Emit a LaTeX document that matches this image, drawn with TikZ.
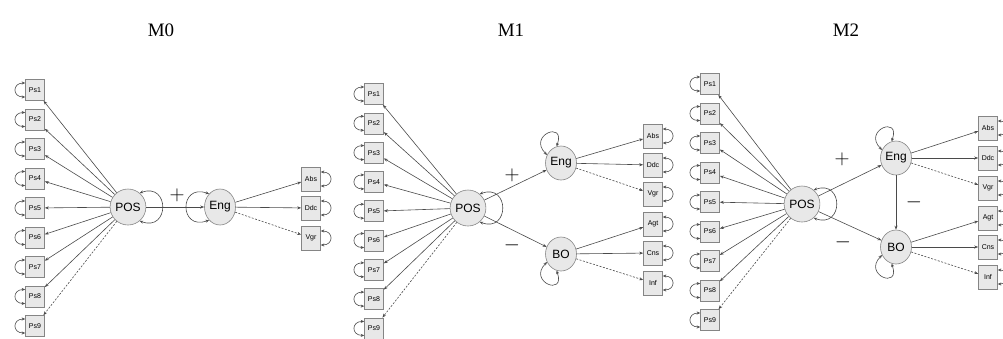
\documentclass[tikz,border=0pt]{standalone}
\usepackage{fontspec}
\newfontfamily\lab{Liberation Sans}
\newfontfamily\ttlfont{Liberation Serif}
\usetikzlibrary{arrows.meta,shapes.geometric}
\definecolor{boxfill}{HTML}{E8E8E8}
\definecolor{boxdraw}{HTML}{858585}
\definecolor{edge}{HTML}{4A4A4A}
\tikzset{
  obs/.style={draw=boxdraw, fill=boxfill, line width=0.6pt, minimum width=19pt, minimum height=21pt, inner sep=0pt, font=\lab\fontsize{7}{7}\selectfont},
  ind/.style={obs, minimum height=24pt},
  lat/.style={draw=boxdraw, fill=boxfill, line width=0.6pt, ellipse, minimum width=31pt, minimum height=36pt, inner sep=0pt, font=\lab\fontsize{12}{12}\selectfont},
  path/.style={draw=edge, line width=0.6pt, -{Stealth[length=4pt,width=3pt]}},
  dpath/.style={path, dashed, dash pattern=on 2pt off 1.5pt},
  vloop/.style={draw=edge, line width=0.6pt, {Stealth[length=3.5pt,width=3pt]}-{Stealth[length=3.5pt,width=3pt]}},
  ttl/.style={font=\ttlfont\fontsize{19}{19}\selectfont},
  sgn/.style={font=\fontsize{22}{22}\selectfont},
}
\begin{document}
\begin{tikzpicture}[x=1pt,y=-1pt]
\useasboundingbox (0,0) rectangle (1003,338);
% titles
\node[ttl] (t0) at (161,30) {M0};
\node[ttl] (t1) at (511,30) {M1};
\node[ttl] (t2) at (846,30) {M2};

% ---------- M0 ----------
\foreach \i in {1,...,9} {
  \node[obs] (a\i) at (35,{90+29.5*(\i-1)}) {Ps\i};
  \draw[vloop] ([yshift=-7pt]a\i.west) .. controls +(-13,0) and +(-13,0) .. ([yshift=7pt]a\i.west);
}
\node[lat] (aPOS) at (128,207) {POS};
\node[lat] (aEng) at (220,207) {Eng};
\foreach \i in {1,...,8} { \draw[path] (aPOS) -- (a\i); }
\draw[dpath] (aPOS) -- (a9);
\draw[vloop] (aPOS.50) .. controls +(20:32pt) and +(-20:32pt) .. (aPOS.-50);
\draw[vloop] (aEng.130) .. controls +(160:32pt) and +(200:32pt) .. (aEng.230);
\draw[path] (aPOS) -- (aEng);
\node[sgn] (ap) at (177,195) {$+$};
\foreach \n/\y in {Abs/179,Ddc/208,Vgr/238} {
  \node[ind] (a\n) at (311,\y) {\n};
  \draw[vloop] ([yshift=7pt]a\n.east) .. controls +(13,0) and +(13,0) .. ([yshift=-7pt]a\n.east);
}
\draw[path] (aEng) -- (aAbs);
\draw[path] (aEng) -- (aDdc);
\draw[dpath] (aEng) -- (aVgr);

% ---------- M1 ----------
\foreach \i in {1,...,9} {
  \node[obs] (b\i) at (374,{94+29.3*(\i-1)}) {Ps\i};
  \draw[vloop] ([yshift=-7pt]b\i.west) .. controls +(-13,0) and +(-13,0) .. ([yshift=7pt]b\i.west);
}
\node[lat] (bPOS) at (468,208) {POS};
\node[lat, minimum height=34pt] (bEng) at (561,163) {Eng};
\node[lat, minimum height=34pt] (bBO) at (561,254) {BO};
\foreach \i in {1,...,8} { \draw[path] (bPOS) -- (b\i); }
\draw[dpath] (bPOS) -- (b9);
\draw[vloop] (bPOS.50) .. controls +(20:32pt) and +(-20:32pt) .. (bPOS.-50);
\draw[vloop] (bEng.150) .. controls +(135:28pt) and +(70:28pt) .. (bEng.105);
\draw[vloop] (bBO.-105) .. controls +(-70:28pt) and +(-135:28pt) .. (bBO.-150);
\draw[path] (bPOS) -- (bEng);
\draw[path] (bPOS) -- (bBO);
\node[sgn] (bp) at (512,175) {$+$};
\node[sgn] (bm) at (512,245) {$-$};
\foreach \n/\y in {Abs/136,Ddc/165,Vgr/194,Agt/224,Cns/253,Inf/283} {
  \node[ind] (b\n) at (653,\y) {\n};
  \draw[vloop] ([yshift=7pt]b\n.east) .. controls +(13,0) and +(13,0) .. ([yshift=-7pt]b\n.east);
}
\draw[path] (bEng) -- (bAbs);
\draw[path] (bEng) -- (bDdc);
\draw[dpath] (bEng) -- (bVgr);
\draw[path] (bBO) -- (bAgt);
\draw[path] (bBO) -- (bCns);
\draw[dpath] (bBO) -- (bInf);

% ---------- M2 ----------
\foreach \i in {1,...,9} {
  \node[obs] (c\i) at (710,{84+29.5*(\i-1)}) {Ps\i};
  \draw[vloop] ([yshift=-7pt]c\i.west) .. controls +(-13,0) and +(-13,0) .. ([yshift=7pt]c\i.west);
}
\node[lat] (cPOS) at (802,204) {POS};
\node[lat, minimum height=34pt] (cEng) at (896,158) {Eng};
\node[lat, minimum height=34pt] (cBO) at (896,247) {BO};
\foreach \i in {1,...,8} { \draw[path] (cPOS) -- (c\i); }
\draw[dpath] (cPOS) -- (c9);
\draw[vloop] (cPOS.50) .. controls +(20:32pt) and +(-20:32pt) .. (cPOS.-50);
\draw[vloop] (cEng.150) .. controls +(135:28pt) and +(70:28pt) .. (cEng.105);
\draw[vloop] (cBO.-105) .. controls +(-70:28pt) and +(-135:28pt) .. (cBO.-150);
\draw[path] (cPOS) -- (cEng);
\draw[path] (cPOS) -- (cBO);
\draw[path] (cEng) -- (cBO);
\node[sgn] (cp) at (842,159) {$+$};
\node[sgn] (cm) at (843,242) {$-$};
\node[sgn] (cm2) at (914,202) {$-$};
\foreach \n/\y in {Abs/128,Ddc/158,Vgr/188,Agt/218,Cns/247,Inf/277} {
  \node[ind] (c\n) at (988,\y) {\n};
  \draw[vloop] ([yshift=7pt]c\n.east) .. controls +(13,0) and +(13,0) .. ([yshift=-7pt]c\n.east);
}
\draw[path] (cEng) -- (cAbs);
\draw[path] (cEng) -- (cDdc);
\draw[dpath] (cEng) -- (cVgr);
\draw[path] (cBO) -- (cAgt);
\draw[path] (cBO) -- (cCns);
\draw[dpath] (cBO) -- (cInf);
\end{tikzpicture}
\end{document}
